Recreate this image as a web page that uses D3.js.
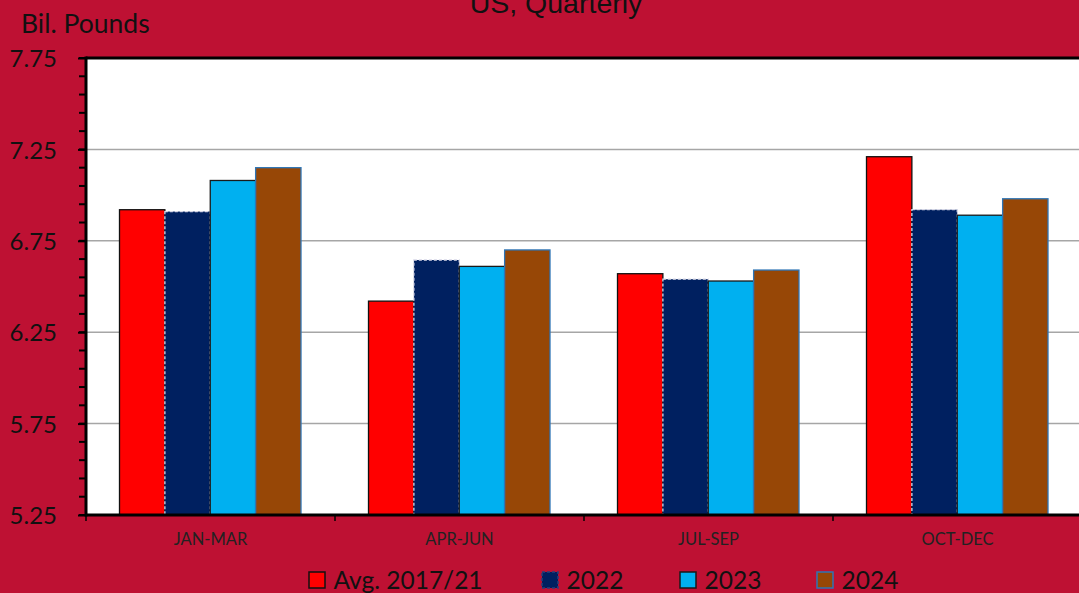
<!DOCTYPE html>
<html><head><meta charset="utf-8">
<script src="https://cdn.jsdelivr.net/npm/d3@7"></script>
<style>html,body{margin:0;padding:0;background:#BE1133;overflow:hidden}</style>
</head><body>
<svg id="c" width="1079" height="593"></svg>
<script>
const categories = ["JAN-MAR","APR-JUN","JUL-SEP","OCT-DEC"];
const seriesNames = ["Avg. 2017/21","2022","2023","2024"];
const avg1721 = [6.92, 6.42, 6.57, 7.21];
const y2022 = [6.91, 6.645, 6.54, 6.92];
const y2023 = [7.08, 6.61, 6.53, 6.89];
const y2024 = [7.15, 6.70, 6.59, 6.98];
const yTicks = [5.25, 5.75, 6.25, 6.75, 7.25, 7.75];
const seriesValues = [avg1721, y2022, y2023, y2024];

const fills = ["#FF0000","#002060","#00B0F0","#974706"];
const strokes = ["#111","#d8d8e8","#1a1a1a","#2E75B6"];
const dashes = [null,"3,2",null,null];
const FONT = "Lato, 'Open Sans', sans-serif";

const svg = d3.select("#c");
const L=86, T=58, R=1082, B=515;
const x = d3.scaleBand().domain(categories).range([L,R]);
const y = d3.scaleLinear().domain([5.25,7.75]).range([B,T]);
const xs = d3.scaleBand().domain(seriesNames).range([-91,90.5]);

svg.append("rect").attr("x",L).attr("y",T).attr("width",R-L).attr("height",B-T).attr("fill","#fff");

// gridlines
svg.append("g").selectAll("line").data(yTicks.slice(1,-1)).join("line")
  .attr("x1",L).attr("x2",R).attr("y1",d=>y(d)).attr("y2",d=>y(d))
  .attr("stroke","#a6a6a6").attr("stroke-width",1.5);

// bars
categories.forEach((c,ci)=>{
  seriesNames.forEach((s,si)=>{
    const v = seriesValues[si][ci];
    svg.append("rect")
      .attr("x", x(c)+x.bandwidth()/2+xs(s))
      .attr("y", y(v))
      .attr("width", xs.bandwidth())
      .attr("height", B-y(v))
      .attr("fill", fills[si])
      .attr("stroke", strokes[si])
      .attr("stroke-width", 1.3)
      .attr("stroke-dasharray", dashes[si]);
  });
});

// top border
svg.append("line").attr("x1",L).attr("x2",R).attr("y1",T).attr("y2",T).attr("stroke","#000").attr("stroke-width",3);

// y axis
const minor = d3.range(5.25,7.7501,0.1);
const yAxis = d3.axisLeft(y).tickValues(yTicks).tickSize(8).tickFormat(d3.format(".2f"));
const yg = svg.append("g").attr("transform",`translate(${L},0)`).call(yAxis);
yg.select(".domain").remove();
yg.selectAll(".tick line").attr("stroke","#000").attr("stroke-width",2);
yg.selectAll(".tick text").attr("font-family",FONT).attr("font-size",24).attr("fill","#111").attr("x",-29).attr("dy","0.36em");
svg.append("g").selectAll("line").data(minor).join("line")
  .attr("x1",L-7).attr("x2",L).attr("y1",d=>y(d)).attr("y2",d=>y(d))
  .attr("stroke","#000").attr("stroke-width",2);
svg.append("line").attr("x1",L).attr("x2",L).attr("y1",T-1.5).attr("y2",B+1.5).attr("stroke","#000").attr("stroke-width",3);

// x axis
const xAxis = d3.axisBottom(x).tickSize(0).tickPadding(0);
const xg = svg.append("g").attr("transform",`translate(0,${B})`).call(xAxis);
xg.select(".domain").remove();
xg.selectAll(".tick text").attr("font-family",FONT).attr("font-size",16.5).attr("fill","#222").attr("y",18);
const xb = d3.range(0, categories.length+1).map(i=>L+i*x.step());
svg.append("g").selectAll("line").data(xb).join("line")
  .attr("x1",d=>d).attr("x2",d=>d).attr("y1",B).attr("y2",B+6)
  .attr("stroke","#000").attr("stroke-width",1.5);
svg.append("line").attr("x1",L).attr("x2",R).attr("y1",B).attr("y2",B).attr("stroke","#000").attr("stroke-width",3);

// titles
svg.append("text").attr("x",556).attr("y",13).attr("text-anchor","middle")
  .attr("font-family","'Liberation Sans', Arial, sans-serif").attr("font-size",28.5).attr("fill","#111").text("US, Quarterly");
svg.append("text").attr("x",21).attr("y",33)
  .attr("font-family",FONT).attr("font-size",26.5).attr("fill","#111").text("Bil. Pounds");

// legend
const legX = [309, 542, 680, 817];
const lg = svg.append("g");
seriesNames.forEach((s,i)=>{
  lg.append("rect").attr("x",legX[i]).attr("y",572).attr("width",16).attr("height",16)
    .attr("fill",fills[i]).attr("stroke",i===1?"#2a3f7a":strokes[i]).attr("stroke-width",1.5)
    .attr("stroke-dasharray",dashes[i]);
  lg.append("text").attr("x",legX[i]+24.5).attr("y",589)
    .attr("font-family",FONT).attr("font-size",24.5).attr("fill","#111").text(s);
});
</script>
</body></html>
